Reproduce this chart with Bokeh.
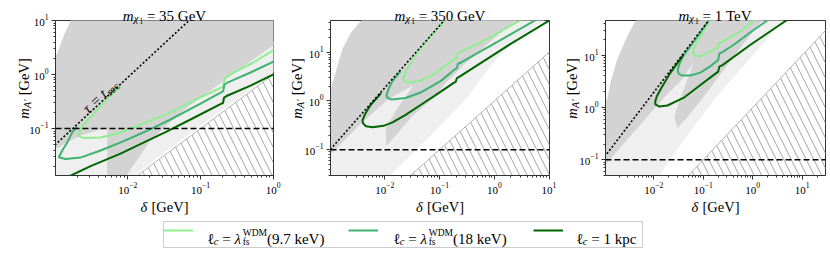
import math
from bokeh.plotting import figure
from bokeh.models import Range1d, Label, Legend, LegendItem, Span, Spacer
from bokeh.layouts import row, column
from bokeh.embed import file_html
from bokeh.resources import INLINE

# ---------------- chart values ----------------
PANEL_MASSES = ["35 GeV", "350 GeV", "1 TeV"]
LEGEND_TAILS = ["(9.7 keV)", "(18 keV)", " = 1 kpc"]

MA_CUT = 0.1                 # horizontal dashed line, m_A' [GeV]
KIN_DELTA = [1e-4, 1e3]      # kinematic boundary m_A' = delta (hatched below)

# axis ranges
P1_XRANGE = [1.01e-3, 1.01]
P1_YRANGE = [0.0135, 10.02]
P2_XRANGE = [1.015e-3, 10.2]
P2_YRANGE = [0.0295, 45.0]
P3_XRANGE = [1.06e-3, 29.5]
P3_YRANGE = [0.05, 46.0]

# tau = t_rec dotted lines
P1_TAU_X = [9e-4, 0.075]
P1_TAU_Y = [0.0438, 11.0]
P2_TAU_X = [9e-4, 0.13]
P2_TAU_Y = [0.0875, 49.3]
P3_TAU_X = [9e-4, 0.13]
P3_TAU_Y = [0.098, 46.8]
TAU_LABEL_AT = [2.55e-3, 0.215]

# shaded regions (light gray polygons, dark gray polygon)
P1_LIGHT_XS = [[9e-4, 6e-3, 6e-3, 9e-4],
               [8e-3, 0.0109, 0.0282, 0.1, 0.355, 1.1, 1.1, 0.3, 0.05, 8e-3]]
P1_LIGHT_YS = [[0.012, 0.012, 0.12, 0.05],
               [0.012, 0.012, 0.0316, 0.114, 0.392, 1.2, 4.5, 1.5, 0.25, 0.03]]
P1_DARK_X = [1.7e-3, 1.31e-3, 1.08e-3, 9e-4, 9e-4, 2.23e-3, 5.2e-3, 5.2e-3, 9.0e-3,
             0.0205, 0.053, 0.137, 0.355, 1.1, 1.1]
P1_DARK_Y = [11, 5.3, 2.55, 1.8, 0.039, 0.074, 0.104, 0.012, 0.012,
             0.06, 0.198, 0.506, 1.29, 3.8, 11]

P2_LIGHT_XS = [[9e-4, 2.36e-3, 5.48e-3, 0.0194, 0.0684, 8.67, 3.03, 1.06, 0.339, 0.0684,
                0.0117, 0.0105, 9e-4]]
P2_LIGHT_YS = [[0.095, 0.39, 1.26, 6.5, 47, 47, 21.2, 7.2, 1.26, 0.193,
                0.0281, 0.025, 0.025]]
P2_DARK_X = [2.6, 0.855, 0.3, 0.129, 0.0845, 0.0317, 0.0157, 0.0107, 0.0103, 0.0169,
             0.0335, 0.0111, 3.91e-3, 9e-4, 9e-4, 1.25e-3, 1.66e-3, 2.37e-3, 3.8e-3]
P2_DARK_Y = [47, 16.8, 5.97, 2.33, 1.26, 0.494, 0.193, 0.121, 0.268, 0.71,
             2.12, 1.05, 0.372, 0.07, 1.08, 3.78, 11.4, 24.8, 47]

P3_LIGHT_XS = [[9e-4, 9e-4, 5.38e-3, 0.0346, 0.0877, 4.3, 0.898, 0.191, 0.0551, 0.0108]]
P3_LIGHT_YS = [[0.04, 0.23, 1.33, 11.9, 48, 48, 8.8, 1.66, 0.356, 0.04]]
P3_DARK_X = [1.6, 0.712, 0.354, 0.176, 0.0878, 0.0502, 0.0301, 0.0262, 0.033, 0.0634,
             0.0349, 0.0172, 0.0119, 3.38e-3, 9e-4, 9e-4, 1.15e-3, 1.33e-3, 1.82e-3,
             2.9e-3, 4.4e-3]
P3_DARK_Y = [48, 18.5, 7.7, 3.2, 1.33, 0.689, 0.407, 0.689, 1.33, 7.05,
             3.2, 1.66, 1.12, 0.286, 0.068, 1.2, 1.43, 2.97, 8.3, 23, 48]

# contour curves: l_c = lambda_fs(9.7 keV), lambda_fs(18 keV), 1 kpc
P1_LG_X = [7.9e-3, 4.45e-3, 3.24e-3, 2.62e-3, 2.23e-3, 2.08e-3, 2.46e-3, 4.21e-3, 7.21e-3,
           0.015, 0.0348, 0.1, 0.188, 0.205, 0.214, 0.233, 0.287, 0.541, 1.05]
P1_LG_Y = [0.62, 0.286, 0.174, 0.131, 0.0987, 0.0741, 0.0667, 0.0681, 0.0808,
           0.119, 0.187, 0.38, 0.568, 0.6, 0.832, 0.918, 1.09, 1.69, 2.93]
P1_MG_X = [2.0e-3, 1.72e-3, 1.44e-3, 1.25e-3, 1.12e-3, 1.39e-3, 2.23e-3, 4.21e-3, 8.45e-3,
           0.0175, 0.0386, 0.1, 0.195, 0.205, 0.214, 0.235, 0.488, 1.05]
P1_MG_Y = [0.108, 0.0853, 0.0528, 0.0392, 0.0294, 0.0272, 0.029, 0.0392, 0.0574,
           0.088, 0.147, 0.29, 0.474, 0.494, 0.653, 0.711, 1.09, 1.78]
P1_DG_X = [1.44e-3, 3.07e-3, 7.94e-3, 0.0175, 0.033, 0.0728, 0.188, 0.204, 0.211, 0.228,
           0.488, 1.05]
P1_DG_Y = [0.0124, 0.0202, 0.0344, 0.0574, 0.0861, 0.147, 0.284, 0.297, 0.375, 0.4,
           0.625, 1.03]

P2_LG_X = [0.128, 0.0684, 0.045, 0.0317, 0.0244, 0.0217, 0.0224, 0.0271, 0.045, 0.0845,
           0.196, 0.206, 0.215, 0.242, 0.753, 3.1]
P2_LG_Y = [47.0, 21.2, 11.9, 6.87, 4.09, 2.94, 2.5, 2.39, 2.62, 3.73,
           7.55, 7.73, 9.55, 10.2, 18.9, 47.0]
P2_MG_X = [0.0194, 0.0138, 0.0118, 0.0107, 0.011, 0.0132, 0.0239, 0.045, 0.104, 0.196,
           0.207, 0.216, 0.252, 1.5, 6.1]
P2_MG_Y = [4.09, 2.56, 1.82, 1.32, 1.18, 1.07, 1.15, 1.49, 2.56, 4.6,
           4.71, 5.82, 6.25, 19.6, 48.0]
P2_DG_X = [8.5e-3, 7.67e-3, 5.48e-3, 4.35e-3, 3.91e-3, 3.99e-3, 4.53e-3, 5.96e-3, 9.46e-3,
           0.0138, 0.0239, 0.045, 0.0845, 0.184, 0.196, 0.207, 0.232, 0.562, 1.99, 11.6]
P2_DG_Y = [1.45, 1.26, 0.828, 0.543, 0.4, 0.347, 0.302, 0.288, 0.309,
           0.364, 0.518, 0.828, 1.32, 2.39, 2.44, 2.94, 3.16, 5.97, 14.9, 49.4]

P3_LG_X = [0.138, 0.101, 0.0764, 0.0649, 0.0619, 0.0696, 0.0877, 0.14, 0.189, 0.198,
           0.208, 0.244, 0.565, 1.13]
P3_LG_Y = [50.0, 28.6, 18.5, 13.6, 10.9, 9.57, 9.57, 11.7, 13.6, 13.9,
           16.9, 18.1, 28.6, 48.5]
P3_MG_X = [0.132, 0.08, 0.06, 0.04, 0.033, 0.0305, 0.0316, 0.038, 0.0551, 0.0877, 0.14,
           0.194, 0.201, 0.211, 0.244, 0.413, 0.9, 2.1]
P3_MG_Y = [47.0, 24.0, 16.5, 10.0, 6.74, 5.18, 4.44, 4.07, 4.07, 4.64, 6.17,
           7.85, 8.03, 10.7, 11.4, 15.8, 27.4, 48.0]
P3_DG_X = [0.04, 0.0217, 0.015, 0.0116, 0.0107, 0.0108, 0.013, 0.0189, 0.0398, 0.0877,
           0.194, 0.201, 0.211, 0.244, 0.9, 5.1]
P3_DG_Y = [10.2, 4.6, 2.57, 1.66, 1.3, 1.14, 1.04, 1.09, 1.52, 2.68,
           4.74, 4.85, 6.04, 6.45, 15.8, 48.0]

# ---------------- styling / layout ----------------
CURVE_COLORS = ["#90ee90", "#3cb371", "#006400"]
DARK_GRAY = "#d3d3d3"
LIGHT_GRAY = "#efefef"
FONT = "Liberation Serif"
NB = "\u00a0"
TOTAL_H = 248
FH = 155
# (figure width, left border, right border) per panel
PANEL_GEOM = [(285, 55, 12), (272, 45, 8), (273, 48, 5)]
FRAME_LEFT = [55, 330, 605]
FRAME_W = [218, 219, 220]
YLABEL_BASE_X = [23, 296, 571]

CW = {' ': 0.25, NB: 0.25, '=': 0.564, '.': 0.25, '(': 0.333, ')': 0.333, '[': 0.333,
      ']': 0.333, 'G': 0.722, 'e': 0.444, 'V': 0.722, 'T': 0.611, 'k': 0.5, 'p': 0.5,
      'c': 0.444, 'W': 0.944, 'D': 0.722, 'M': 0.889, 'f': 0.333, 's': 0.389, 'r': 0.333,
      't': 0.278, 'm': 0.722, 'A': 0.611, 'χ': 0.55, 'τ': 0.45, 'δ': 0.5, 'ℓ': 0.42,
      'λ': 0.55, '′': 0.28}


def tw(s, size):
    return sum(CW.get(ch, 0.5) for ch in s) * size


def total_width(pieces):
    d = 0.0
    for pc in pieces:
        d += tw(pc[0], pc[1]) if len(pc) < 5 else pc[4]
    return d


def put_text(p, pieces, x0, y0, angle=0.0, data=False):
    c, s = math.cos(angle), math.sin(angle)
    d = 0.0
    for pc in pieces:
        text, size, rise, style = pc[:4]
        dx = d * c - rise * s
        dy = d * s + rise * c
        kw = dict(text=text.replace(" ", NB), text_font=FONT, text_font_size=f"{size}px",
                  text_font_style=style, text_color="black", text_align="left",
                  text_baseline="alphabetic", angle=angle)
        if data:
            lab = Label(x=x0, y=y0, x_offset=dx, y_offset=dy, **kw)
        else:
            lab = Label(x=x0 + dx, y=y0 + dy, x_units="screen", y_units="screen", **kw)
        p.add_layout(lab)
        d += tw(text, size) if len(pc) < 5 else pc[4]


def make_panel(k, xr, yr, light, dark, curves, tau, tau_label=None):
    width, left, right = PANEL_GEOM[k]
    fw = width - left - right
    p = figure(width=width, height=220, x_axis_type="log", y_axis_type="log",
               x_range=Range1d(*xr), y_range=Range1d(*yr), output_backend="svg",
               toolbar_location=None, min_border_left=left, min_border_right=right,
               min_border_top=20, min_border_bottom=45)
    p.grid.visible = False
    p.outline_line_color = "#333333"
    p.outline_line_width = 1
    for ax in p.axis:
        ax.axis_line_color = "#333333"
        ax.major_tick_out = 4
        ax.major_tick_in = 0
        ax.minor_tick_out = 2
        ax.minor_tick_in = 0
        ax.major_tick_line_color = "#333333"
        ax.minor_tick_line_color = "#333333"
        ax.major_label_text_font = FONT
        ax.major_label_text_font_size = "11px"
        ax.major_label_text_color = "black"
        ax.major_label_standoff = 3

    p.patches(xs=light[0], ys=light[1], fill_color=LIGHT_GRAY, line_color=None)
    p.patch(dark[0], dark[1], fill_color=DARK_GRAY, line_color=None)
    hx = KIN_DELTA + [KIN_DELTA[-1]]
    hy = KIN_DELTA + [KIN_DELTA[0]]
    p.patch(hx, hy, fill_color=None, line_color="#b4b4b4", line_width=1,
            hatch_pattern="\\", hatch_color="#8c8c8c", hatch_scale=15, hatch_weight=0.8)
    for (cx, cy), col in zip(curves, CURVE_COLORS):
        p.line(cx, cy, line_color=col, line_width=2)
    p.line(tau[0], tau[1], line_color="black", line_width=1.6, line_dash="2 2")
    p.add_layout(Span(location=MA_CUT, dimension="width", line_color="black",
                      line_width=1.5, line_dash="6 3"))

    if tau_label is not None:
        dec_x = math.log10(xr[1] / xr[0])
        dec_y = math.log10(yr[1] / yr[0])
        slope = math.log10(tau[1][1] / tau[1][0]) / math.log10(tau[0][1] / tau[0][0])
        ang = math.atan(slope * (FH / dec_y) / (fw / dec_x))
        tp = [("τ", 15, 0, "italic", 10.5), ("=", 15, 0, "normal", 12.5),
              ("t", 15, 0, "italic", 5.5), ("rec", 11, -3, "normal")]
        put_text(p, tp, tau_label[0], tau_label[1], angle=ang, data=True)
    return p


p1 = make_panel(0, P1_XRANGE, P1_YRANGE, (P1_LIGHT_XS, P1_LIGHT_YS), (P1_DARK_X, P1_DARK_Y),
                [(P1_LG_X, P1_LG_Y), (P1_MG_X, P1_MG_Y), (P1_DG_X, P1_DG_Y)],
                (P1_TAU_X, P1_TAU_Y), TAU_LABEL_AT)
p2 = make_panel(1, P2_XRANGE, P2_YRANGE, (P2_LIGHT_XS, P2_LIGHT_YS), (P2_DARK_X, P2_DARK_Y),
                [(P2_LG_X, P2_LG_Y), (P2_MG_X, P2_MG_Y), (P2_DG_X, P2_DG_Y)],
                (P2_TAU_X, P2_TAU_Y))
p3 = make_panel(2, P3_XRANGE, P3_YRANGE, (P3_LIGHT_XS, P3_LIGHT_YS), (P3_DARK_X, P3_DARK_Y),
                [(P3_LG_X, P3_LG_Y), (P3_MG_X, P3_MG_Y), (P3_DG_X, P3_DG_Y)],
                (P3_TAU_X, P3_TAU_Y))

# ---------------- legend ----------------
lf = figure(width=481, height=28, x_range=Range1d(0, 1), y_range=Range1d(0, 1),
            output_backend="svg", toolbar_location=None, x_axis_location=None,
            y_axis_location=None, min_border=1)
lf.grid.visible = False
lf.outline_line_color = "#cccccc"
lf.outline_line_width = 1
items = []
for col in CURVE_COLORS:
    # legend proxy: a single NaN point, so nothing is drawn in the frame
    r = lf.line(x=[float("nan")], y=[float("nan")], line_color=col, line_width=2)
    items.append(LegendItem(label=" ", renderers=[r]))
leg = Legend(items=items, orientation="horizontal", location="top_left",
             glyph_width=30, glyph_height=18, label_height=18, label_width=130,
             label_standoff=5, spacing=20, padding=2, margin=0,
             border_line_color=None, background_fill_alpha=0)
lf.add_layout(leg)

lead = [("ℓ", 15, 0, "normal"), ("c", 10.5, -3, "italic")]
lam = [(" = ", 15, 0, "normal"), ("λ", 15, 0, "italic"), ("fs", 9.5, -3.5, "normal", 0),
       ("WDM", 9.5, 6, "normal")]
put_text(lf, lead + lam + [(LEGEND_TAILS[0], 15, 0, "normal")], 44, 9)
put_text(lf, lead + lam + [(LEGEND_TAILS[1], 15, 0, "normal")], 230, 9)
put_text(lf, lead + [(LEGEND_TAILS[2], 15, 0, "normal")], 413, 9)

# ---------------- text overlay (titles and axis labels) ----------------
ov = figure(width=830, height=TOTAL_H, x_range=Range1d(0, 830), y_range=Range1d(0, TOTAL_H),
            output_backend="svg", toolbar_location=None, x_axis_location=None,
            y_axis_location=None, min_border=0, margin=(-TOTAL_H, 0, 0, 0))
ov.grid.visible = False
ov.outline_line_color = None
ov.background_fill_color = None
ov.border_fill_color = None
for k in range(3):
    cx = FRAME_LEFT[k] + FRAME_W[k] / 2
    tpieces = [("m", 15, 0, "italic"), ("χ", 10.5, -3, "italic"), ("1", 7.5, -5.5, "normal"),
               (" = " + PANEL_MASSES[k], 15, 0, "normal")]
    put_text(ov, tpieces, cx - total_width(tpieces) / 2, TOTAL_H - 15)
    xp = [("δ", 14.5, 0, "italic"), (" [GeV]", 14.5, 0, "normal")]
    put_text(ov, xp, cx - total_width(xp) / 2, TOTAL_H - 206)
    yp = [("m", 14.5, 0, "italic"), ("A′", 10.5, -3.5, "italic"), (" [GeV]", 14.5, 0, "normal")]
    put_text(ov, yp, YLABEL_BASE_X[k], TOTAL_H - 88 - total_width(yp) / 2, angle=math.pi / 2)

layout = column(row(p1, p2, p3), row(Spacer(width=162, height=28), lf), ov)
open("out.html", "w").write(file_html(layout, INLINE))
